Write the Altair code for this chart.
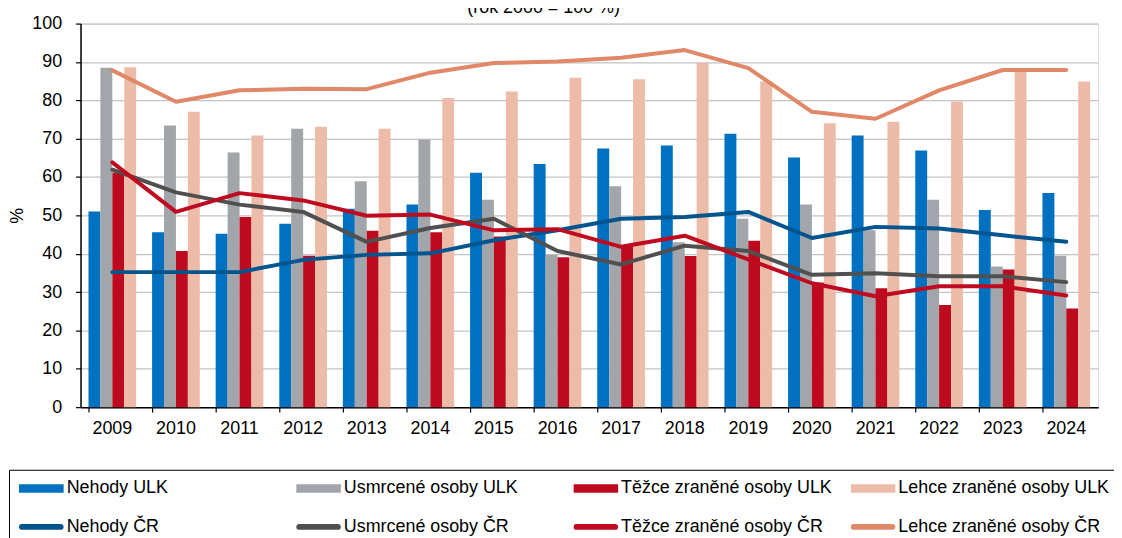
import altair as alt
import pandas as pd

years = [str(y) for y in range(2009, 2025)]

bar_names = ["Nehody ULK", "Usmrcené osoby ULK", "Těžce zraněné osoby ULK", "Lehce zraněné osoby ULK"]
line_names = ["Nehody ČR", "Usmrcené osoby ČR", "Těžce zraněné osoby ČR", "Lehce zraněné osoby ČR"]

nehody_ulk = [51.0, 45.6, 45.2, 47.8, 51.7, 52.8, 61.1, 63.4, 67.4, 68.2, 71.3, 65.1, 70.8, 66.9, 51.4, 55.8]
usmrcene_ulk = [88.5, 73.4, 66.4, 72.6, 58.9, 69.8, 54.1, 39.7, 57.6, 43.0, 49.1, 52.8, 46.1, 54.1, 36.7, 39.5]
tezce_ulk = [61.2, 40.7, 49.6, 39.5, 46.0, 45.6, 44.5, 39.1, 42.3, 39.4, 43.4, 32.5, 31.0, 26.6, 35.9, 25.7]
lehce_ulk = [88.6, 77.0, 70.8, 73.1, 72.6, 80.6, 82.3, 85.9, 85.5, 89.8, 84.9, 74.0, 74.4, 79.7, 88.0, 84.9]

nehody_cr = [35.2, 35.2, 35.2, 38.4, 39.7, 40.1, 43.5, 46.1, 49.1, 49.6, 50.9, 44.1, 47.0, 46.6, 44.8, 43.1]
usmrcene_cr = [61.9, 56.0, 52.8, 50.9, 43.1, 46.7, 49.1, 40.7, 37.2, 42.1, 40.7, 34.5, 34.9, 34.1, 34.1, 32.6]
tezce_cr = [63.8, 50.9, 55.8, 53.9, 49.9, 50.2, 46.1, 46.4, 41.8, 44.7, 38.5, 32.3, 28.9, 31.5, 31.5, 29.1]
lehce_cr = [87.8, 79.6, 82.6, 83.0, 82.9, 87.2, 89.7, 90.1, 91.1, 93.1, 88.4, 77.0, 75.2, 82.6, 87.9, 87.9]

bar_colors = ["#0070C0", "#A2A5A9", "#BE0A1E", "#EDBCA8"]
line_colors = ["#00558F", "#505050", "#C00A20", "#E08868"]

FONT = "Liberation Sans"

bar_series = [nehody_ulk, usmrcene_ulk, tezce_ulk, lehce_ulk]
line_series = [nehody_cr, usmrcene_cr, tezce_cr, lehce_cr]

bar_rows = [
    {"year": y, "series": name, "value": v}
    for name, vals in zip(bar_names, bar_series)
    for y, v in zip(years, vals)
]
line_rows = [
    {"year": y, "series": name, "value": v}
    for name, vals in zip(line_names, line_series)
    for y, v in zip(years, vals)
]
bars_df = pd.DataFrame(bar_rows)
lines_df = pd.DataFrame(line_rows)
all_df = pd.concat([bars_df, lines_df], ignore_index=True)

legend_order = bar_names + line_names
color_scale = alt.Scale(domain=legend_order, range=bar_colors + line_colors)

bar_shape = "M-1,-0.19H1V0.19H-1Z"
line_shape = "M-0.87,-0.13H0.87A0.13,0.13 0 0 1 0.87,0.13H-0.87A0.13,0.13 0 0 1 -0.87,-0.13Z"
shape_scale = alt.Scale(domain=legend_order, range=[bar_shape] * 4 + [line_shape] * 4)

x_enc = alt.X(
    "year:N",
    sort=years,
    scale=alt.Scale(paddingInner=0.25, paddingOuter=0.125),
    axis=alt.Axis(
        title=None, labelAngle=0, labelFontSize=18, labelFont=FONT, labelColor="black",
        tickSize=5, tickColor="black", tickWidth=1.2, bandPosition=0, labelPadding=8,
        domainColor="black", domainWidth=1.5, grid=False,
    ),
)
y_enc = alt.Y(
    "value:Q",
    scale=alt.Scale(domain=[0, 100], nice=False),
    axis=alt.Axis(
        title="%", values=list(range(0, 101, 10)), labelFontSize=18, labelFont=FONT,
        labelColor="black", labelPadding=14, tickSize=5, tickColor="black", tickWidth=1.2,
        domainColor="black", domainWidth=1.5, gridColor="#C4C4C4", gridWidth=1.3,
        titleFont=FONT, titleFontSize=18, titleFontWeight="normal", titleColor="black",
        titlePadding=5,
    ),
)

legend = alt.Legend(
    title=None, orient="none", legendX=-72, legendY=449, columns=4, direction="horizontal",
    gridAlign="all", columnPadding=18, rowPadding=20, padding=10, strokeColor="black",
    clipHeight=17,
    labelFont=FONT, labelFontSize=18, labelColor="black", labelLimit=400, labelOffset=3,
    symbolSize=2025, symbolOpacity=1, symbolStrokeWidth=0,
)

color_enc = alt.Color("series:N", scale=color_scale, legend=legend)
shape_enc = alt.Shape("series:N", scale=shape_scale, legend=legend)

bars = alt.Chart(bars_df).mark_bar().encode(
    x=x_enc,
    xOffset=alt.XOffset("series:N", sort=bar_names, scale=alt.Scale(domain=bar_names, paddingInner=0)),
    y=y_enc,
    color=color_enc,
)

lines = alt.Chart(lines_df).mark_line(strokeWidth=4, strokeCap="round", strokeJoin="round").encode(
    x=x_enc,
    y=y_enc,
    color=color_enc,
)

legend_layer = alt.Chart(all_df).mark_point(filled=True, opacity=0).encode(
    x=x_enc,
    y=y_enc,
    color=color_enc,
    shape=shape_enc,
)

chart = alt.layer(bars, lines, legend_layer).properties(
    width=1024,
    height=386,
    autosize=alt.AutoSizeParams(type="none"),
    padding={"left": 73, "top": 14, "right": 16, "bottom": 130},
    title=alt.TitleParams(
        "(rok 2000 = 100 %)", font=FONT, fontSize=18, fontWeight="normal", color="black",
        anchor="middle", dx=-46, dy=18, offset=2, baseline="alphabetic",
    ),
).configure_view(stroke="black", strokeWidth=1.3).configure(font=FONT)

chart.save("out.html", embed_options={"renderer": "svg", "actions": False})
